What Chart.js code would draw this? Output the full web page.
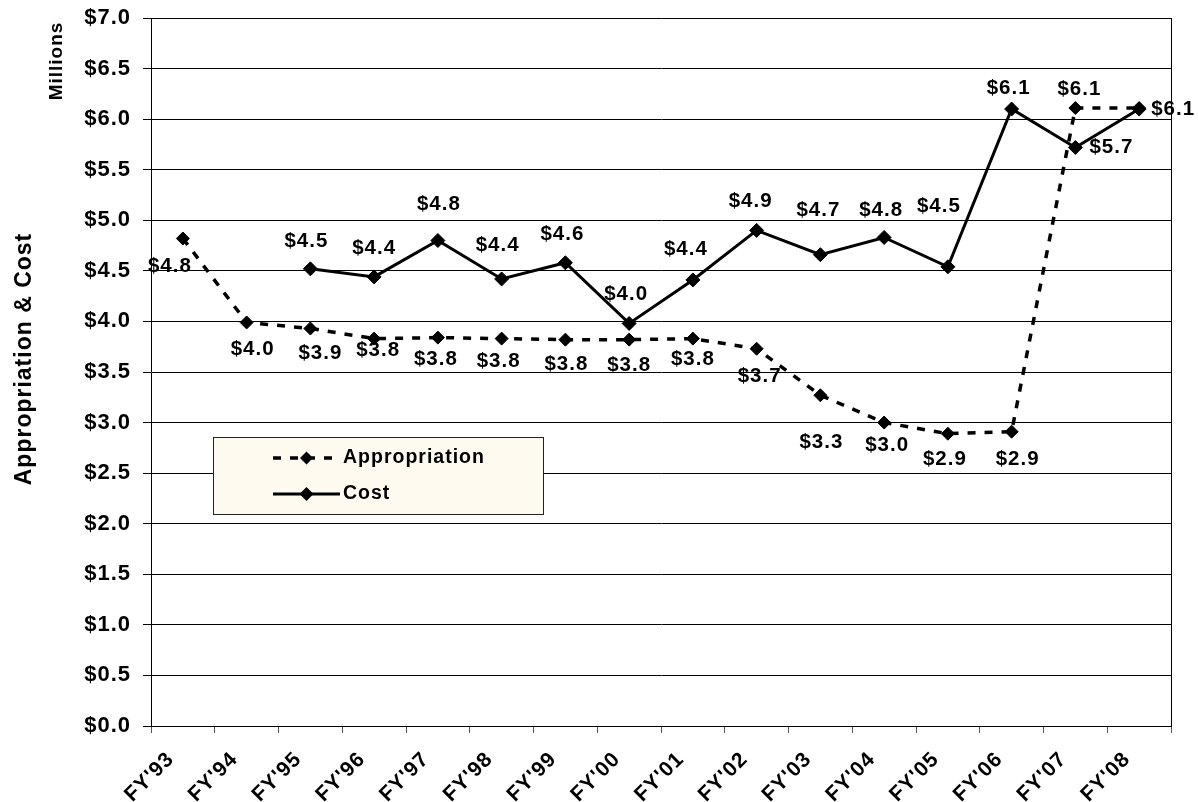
<!DOCTYPE html>
<html>
<head>
<meta charset="utf-8">
<title>Appropriation & Cost</title>
<script src="https://cdn.jsdelivr.net/npm/chart.js@4/dist/chart.umd.min.js"></script>
<style>
  html, body { margin: 0; padding: 0; background: #ffffff; }
  #wrap { width: 1198px; height: 802px; }
</style>
</head>
<body>
<div id="wrap"><canvas id="chart" width="1198" height="802"></canvas></div>
<script>
// Fiscal years on the category axis
const years = ["FY'93", "FY'94", "FY'95", "FY'96", "FY'97", "FY'98", "FY'99", "FY'00",
               "FY'01", "FY'02", "FY'03", "FY'04", "FY'05", "FY'06", "FY'07", "FY'08"];

// Appropriation and cost, $ millions
const appropriation = [4.82, 3.99, 3.93, 3.83, 3.84, 3.83, 3.82, 3.82,
                       3.83, 3.73, 3.27, 3.00, 2.89, 2.91, 6.11, 6.11];
const cost = [null, null, 4.52, 4.44, 4.80, 4.42, 4.58, 3.98,
              4.41, 4.90, 4.66, 4.83, 4.54, 6.10, 5.72, 6.10];

// Value axis range and step
const yMin = 0, yMax = 7, yStep = 0.5;

// Where each value label sits relative to its marker [dx, dy]; null = no label
const appropriationLabelOffsets = [[-13, 28], [6, 27], [10, 25], [4, 12], [-2, 22], [-3, 23], [1, 25], [0, 26],
                                   [0, 21], [3, 28], [1, 47], [3, 23], [-3, 26], [6, 28], [4, -19], null];
const costLabelOffsets = [null, null, [-4, -27], [0, -29], [1, -36], [-4, -34], [-3, -28], [-3, -29],
                          [-7, -31], [-6, -29], [-2, -44], [-3, -27], [-9, -60], [-3, -21], [36, 0], [34, 0]];
const labelOffsets = [appropriationLabelOffsets, costLabelOffsets];

const FONT = "'Liberation Sans', Arial, Helvetica, sans-serif";
const money = v => '$' + Number(v).toFixed(1);

// Slightly wider text tracking for every string on the canvas
const trackingPlugin = {
  id: 'tracking',
  beforeUpdate(chart) { chart.ctx.letterSpacing = '1px'; },
  beforeDraw(chart) { chart.ctx.letterSpacing = '1px'; }
};

// Right-hand edge of the plot frame
const framePlugin = {
  id: 'frame',
  beforeDatasetsDraw(chart) {
    const { ctx, chartArea: a } = chart;
    ctx.save();
    ctx.strokeStyle = '#000';
    ctx.lineWidth = 1;
    ctx.beginPath();
    const x = Math.round(a.right) + 0.5;
    ctx.moveTo(x, a.top);
    ctx.lineTo(x, a.bottom);
    ctx.stroke();
    ctx.restore();
  }
};

// Value labels next to the markers
const valueLabelPlugin = {
  id: 'valueLabels',
  afterDatasetsDraw(chart) {
    const ctx = chart.ctx;
    ctx.save();
    ctx.font = 'bold 20.5px ' + FONT;
    ctx.fillStyle = '#000';
    ctx.textAlign = 'center';
    ctx.textBaseline = 'middle';
    chart.data.datasets.forEach((ds, di) => {
      const meta = chart.getDatasetMeta(di);
      meta.data.forEach((pt, i) => {
        const v = ds.data[i];
        const off = labelOffsets[di][i];
        if (v === null || v === undefined || !off) return;
        ctx.fillText(money(v), pt.x + off[0], pt.y + off[1]);
      });
    });
    ctx.restore();
  }
};

// Axis titles on the left
const axisTitlePlugin = {
  id: 'axisTitles',
  afterDraw(chart) {
    const ctx = chart.ctx;
    ctx.save();
    ctx.fillStyle = '#000';
    ctx.textAlign = 'center';
    ctx.textBaseline = 'middle';
    ctx.font = 'bold 23px ' + FONT;
    ctx.translate(25, 359);
    ctx.rotate(-Math.PI / 2);
    ctx.fillText('Appropriation & Cost', 0, 0);
    ctx.restore();

    ctx.save();
    ctx.fillStyle = '#000';
    ctx.textAlign = 'center';
    ctx.textBaseline = 'middle';
    ctx.font = 'bold 19px ' + FONT;
    ctx.translate(57, 61);
    ctx.rotate(-Math.PI / 2);
    ctx.fillText('Millions', 0, 0);
    ctx.restore();
  }
};

// Boxed legend inside the plot
const boxLegendPlugin = {
  id: 'boxLegend',
  afterDraw(chart) {
    const ctx = chart.ctx;
    const box = { x: 213, y: 437, w: 330, h: 77 };
    ctx.save();
    ctx.fillStyle = '#fffaf0';
    ctx.fillRect(box.x, box.y, box.w, box.h);
    ctx.strokeStyle = '#222';
    ctx.lineWidth = 1;
    ctx.strokeRect(box.x + 0.5, box.y + 0.5, box.w, box.h);

    const rows = [458, 494];
    chart.data.datasets.forEach((ds, i) => {
      const y = rows[i];
      const x0 = 273, x1 = 340, xm = 306.5;
      ctx.save();
      ctx.strokeStyle = ds.borderColor;
      ctx.lineWidth = ds.borderWidth;
      ctx.setLineDash(ds.borderDash || []);
      ctx.beginPath();
      ctx.moveTo(x0, y);
      ctx.lineTo(x1, y);
      ctx.stroke();
      ctx.restore();

      const r = ds.pointRadius;
      ctx.fillStyle = ds.pointBackgroundColor;
      ctx.beginPath();
      ctx.moveTo(xm - r, y);
      ctx.lineTo(xm, y - r);
      ctx.lineTo(xm + r, y);
      ctx.lineTo(xm, y + r);
      ctx.closePath();
      ctx.fill();

      ctx.fillStyle = '#000';
      ctx.font = 'bold 19.5px ' + FONT;
      ctx.textAlign = 'left';
      ctx.textBaseline = 'middle';
      ctx.fillText(ds.label, 343, y);
    });
    ctx.restore();
  }
};

new Chart(document.getElementById('chart'), {
  type: 'line',
  data: {
    labels: years,
    datasets: [
      {
        label: 'Appropriation',
        data: appropriation,
        borderColor: '#000',
        backgroundColor: '#000',
        borderWidth: 3.5,
        borderDash: [8, 9],
        tension: 0,
        fill: false,
        pointStyle: 'rectRot',
        pointRadius: 6.5,
        pointBorderWidth: 1,
        pointBackgroundColor: '#000',
        pointBorderColor: '#000'
      },
      {
        label: 'Cost',
        data: cost,
        borderColor: '#000',
        backgroundColor: '#000',
        borderWidth: 3,
        tension: 0,
        fill: false,
        spanGaps: false,
        pointStyle: 'rectRot',
        pointRadius: 7,
        pointBorderWidth: 1,
        pointBackgroundColor: '#000',
        pointBorderColor: '#000'
      }
    ]
  },
  options: {
    responsive: false,
    animation: false,
    devicePixelRatio: 1,
    layout: { padding: { left: 0, right: 27, top: 18, bottom: 0 } },
    plugins: {
      legend: { display: false },
      tooltip: { enabled: false }
    },
    scales: {
      x: {
        offset: true,
        grid: { offset: true, drawOnChartArea: false, drawTicks: true, tickLength: 7, color: '#555' },
        border: { color: '#000', width: 1 },
        ticks: {
          autoSkip: false,
          minRotation: 45,
          maxRotation: 45,
          padding: 14,
          labelOffset: -12,
          color: '#000',
          font: { family: FONT, size: 21, weight: 'bold' }
        },
        afterFit(scale) { scale.height = 76; }
      },
      y: {
        min: yMin,
        max: yMax,
        ticks: {
          stepSize: yStep,
          callback: v => money(v),
          padding: 12,
          color: '#000',
          font: { family: FONT, size: 22, weight: 'bold' }
        },
        grid: { color: '#000', lineWidth: 1, tickLength: 8 },
        border: { color: '#000', width: 1 },
        afterFit(scale) {
          scale.width = 151;
          scale.paddingTop = 0;
          scale.paddingBottom = 0;
        }
      }
    }
  },
  plugins: [trackingPlugin, framePlugin, valueLabelPlugin, axisTitlePlugin, boxLegendPlugin]
});
</script>
</body>
</html>
